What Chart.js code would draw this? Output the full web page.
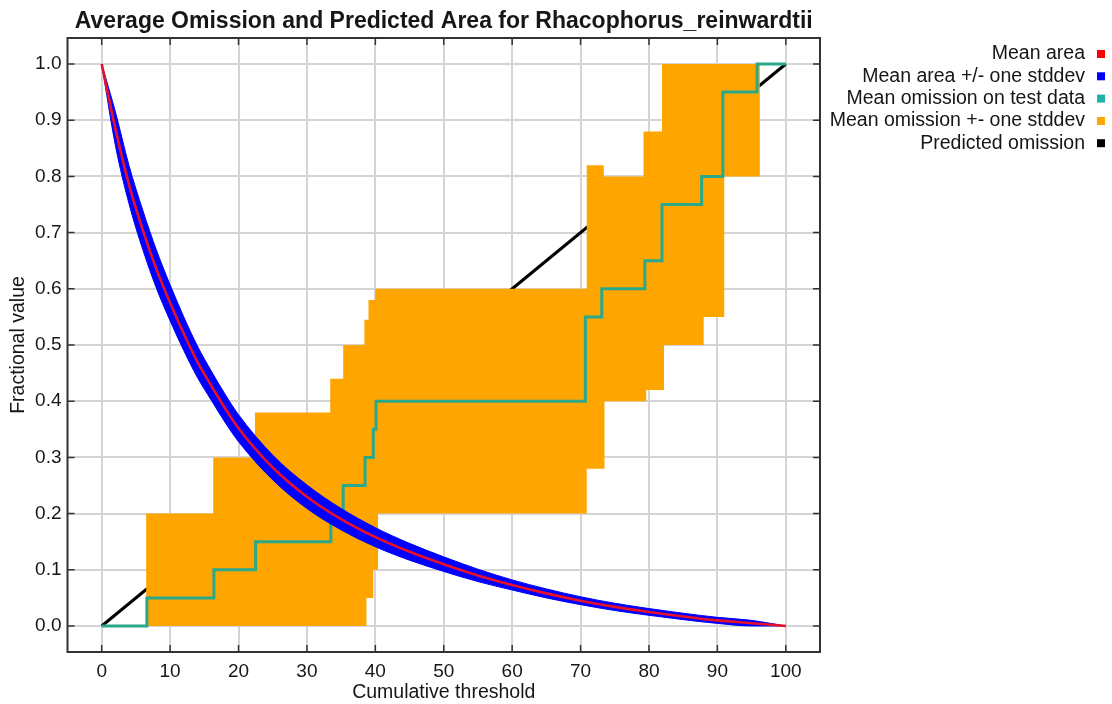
<!DOCTYPE html>
<html>
<head>
<meta charset="utf-8">
<script src="https://cdn.jsdelivr.net/npm/chart.js@4/dist/chart.umd.min.js"></script>
<style>
  html, body { margin: 0; padding: 0; background: #ffffff; }
  #wrap { width: 1112px; height: 704px; }
</style>
</head>
<body>
<div id="wrap"><canvas id="chart" width="1112" height="704"></canvas></div>
<script>
// Cumulative threshold grid for the predicted-area curve
const thresholds = [0, 2, 4, 6, 8, 10, 12, 14, 16, 18, 20, 25, 30, 35, 40, 45, 50, 55, 60, 65, 70, 75, 80, 85, 90, 95, 100];
// Mean fractional predicted area at each threshold
const meanArea = [1.000, 0.885, 0.785, 0.705, 0.635, 0.575, 0.520, 0.470, 0.428, 0.388, 0.352, 0.282, 0.230, 0.190, 0.158, 0.132, 0.110, 0.090, 0.073, 0.058, 0.045, 0.034, 0.025, 0.017, 0.010, 0.005, 0.000];
// One standard deviation of the predicted area
const areaStdDev = [0, 0.030, 0.034, 0.035, 0.034, 0.032, 0.030, 0.028, 0.026, 0.025, 0.024, 0.022, 0.021, 0.019, 0.017, 0.015, 0.013, 0.011, 0.009, 0.008, 0.007, 0.0065, 0.006, 0.0057, 0.0054, 0.005, 0];

// Mean omission on test data: step starts and their values
const omissionSteps = [0, 6.6, 16.4, 22.5, 33.5, 35.3, 38.5, 39.7, 40.1, 70.7, 73.1, 79.4, 81.9, 87.7, 90.8, 95.8, 100];
const meanOmission = [0, 0.05, 0.10, 0.15, 0.20, 0.25, 0.30, 0.35, 0.40, 0.55, 0.60, 0.65, 0.75, 0.80, 0.95, 1.00, 1.00];

// Omission +/- one standard deviation (upper and lower step bounds)
const omissionUpperSteps = [0, 6.5, 16.3, 22.4, 33.4, 35.3, 38.4, 39.0, 40.0, 70.9, 73.4, 79.2, 81.9, 96.2, 100];
const omissionUpper = [0, 0.20, 0.30, 0.38, 0.44, 0.50, 0.545, 0.58, 0.60, 0.82, 0.80, 0.88, 1.00, 1.00, 1.00];
const omissionLowerSteps = [0, 38.7, 39.7, 40.4, 70.9, 73.5, 79.6, 82.2, 88.0, 91.0, 96.2, 100];
const omissionLower = [0, 0.05, 0.10, 0.20, 0.28, 0.40, 0.42, 0.50, 0.55, 0.80, 1.00, 1.00];

// Predicted omission (diagonal)
const predictedThresholds = [0, 100];
const predictedOmission = [0, 1];

// Axis tick values
const xTickValues = [0, 10, 20, 30, 40, 50, 60, 70, 80, 90, 100];
const yTickValues = [0, 0.1, 0.2, 0.3, 0.4, 0.5, 0.6, 0.7, 0.8, 0.9, 1.0];

const legendItems = [
  { text: 'Mean area', color: '#ff0000' },
  { text: 'Mean area +/- one stddev', color: '#0000ff' },
  { text: 'Mean omission on test data', color: '#20b2aa' },
  { text: 'Mean omission +- one stddev', color: '#ffa500' },
  { text: 'Predicted omission', color: '#000000' }
];

const FONT = '"Liberation Sans", Arial, Helvetica, sans-serif';
const TEXT = '#161616';

// Turn step starts/values into explicit corner points
function stepPoints(ts, vs) {
  const pts = [];
  for (let i = 0; i < ts.length; i++) {
    if (i > 0 && vs[i] !== vs[i - 1]) pts.push({ x: ts[i], y: vs[i - 1] });
    pts.push({ x: ts[i], y: vs[i] });
  }
  return pts;
}

const meanAreaPts = thresholds.map((t, i) => ({ x: t, y: meanArea[i] }));
const areaHighPts = thresholds.map((t, i) => ({ x: t, y: meanArea[i] + areaStdDev[i] }));
const areaLowPts = thresholds.map((t, i) => ({ x: t, y: meanArea[i] - areaStdDev[i] }));
const predictedPts = predictedThresholds.map((t, i) => ({ x: t, y: predictedOmission[i] }));

// Frame, inward tick marks and the right-hand key
const frameAndKey = {
  id: 'frameAndKey',
  afterDraw(chart) {
    const { ctx, chartArea: a, scales } = chart;
    ctx.save();
    ctx.strokeStyle = '#333333';
    ctx.lineWidth = 1.5;
    const tl = 7;
    xTickValues.forEach(v => {
      const px = scales.x.getPixelForValue(v);
      ctx.beginPath();
      ctx.moveTo(px, a.bottom); ctx.lineTo(px, a.bottom - tl);
      ctx.moveTo(px, a.top); ctx.lineTo(px, a.top + tl);
      ctx.stroke();
    });
    yTickValues.forEach(v => {
      const py = scales.y.getPixelForValue(v);
      ctx.beginPath();
      ctx.moveTo(a.left, py); ctx.lineTo(a.left + tl, py);
      ctx.moveTo(a.right, py); ctx.lineTo(a.right - tl, py);
      ctx.stroke();
    });
    ctx.lineWidth = 2;
    ctx.strokeRect(a.left, a.top, a.right - a.left, a.bottom - a.top);

    ctx.font = '19.5px ' + FONT;
    ctx.textAlign = 'right';
    ctx.textBaseline = 'middle';
    legendItems.forEach((item, i) => {
      const y = 54 + i * 22.3;
      ctx.fillStyle = TEXT;
      ctx.fillText(item.text, 1085, y);
      ctx.fillStyle = item.color;
      ctx.fillRect(1097, y - 4, 8, 8);
    });
    ctx.restore();
  }
};

new Chart(document.getElementById('chart'), {
  type: 'line',
  data: {
    datasets: [
      {
        label: 'Mean area',
        data: meanAreaPts,
        borderColor: 'rgb(232,16,40)',
        borderWidth: 2.6,
        cubicInterpolationMode: 'monotone',
        pointRadius: 0,
        fill: false
      },
      {
        label: 'Mean area +/- one stddev',
        data: areaHighPts,
        borderColor: '#0000ff',
        borderWidth: 1,
        backgroundColor: '#0000ff',
        cubicInterpolationMode: 'monotone',
        pointRadius: 0,
        fill: '+1'
      },
      {
        label: 'Mean area - one stddev',
        data: areaLowPts,
        borderColor: '#0000ff',
        borderWidth: 1,
        cubicInterpolationMode: 'monotone',
        pointRadius: 0,
        fill: false
      },
      {
        label: 'Mean omission on test data',
        data: stepPoints(omissionSteps, meanOmission),
        borderColor: '#2aa88a',
        borderWidth: 3,
        tension: 0,
        pointRadius: 0,
        fill: false
      },
      {
        label: 'Mean omission +- one stddev',
        data: stepPoints(omissionUpperSteps, omissionUpper),
        borderColor: 'rgba(0,0,0,0)',
        borderWidth: 0,
        backgroundColor: '#ffa500',
        tension: 0,
        pointRadius: 0,
        fill: '+1'
      },
      {
        label: 'Mean omission - one stddev',
        data: stepPoints(omissionLowerSteps, omissionLower),
        borderColor: 'rgba(0,0,0,0)',
        borderWidth: 0,
        tension: 0,
        pointRadius: 0,
        fill: false
      },
      {
        label: 'Predicted omission',
        data: predictedPts,
        borderColor: '#000000',
        borderWidth: 3,
        tension: 0,
        pointRadius: 0,
        fill: false
      }
    ]
  },
  options: {
    responsive: false,
    animation: false,
    devicePixelRatio: 1,
    layout: { padding: { left: 0, right: 292, top: 0, bottom: 0 } },
    plugins: {
      legend: { display: false },
      tooltip: { enabled: false },
      title: {
        display: true,
        fullSize: false,
        text: 'Average Omission and Predicted Area for Rhacophorus_reinwardtii',
        color: TEXT,
        font: { family: FONT, size: 23, weight: 'bold', lineHeight: 1.2 },
        padding: { top: 7.7, bottom: 2.7 }
      }
    },
    scales: {
      x: {
        type: 'linear',
        min: -5,
        max: 105,
        afterBuildTicks: s => { s.ticks = xTickValues.map(v => ({ value: v })); },
        afterFit: s => { s.height = 52; },
        ticks: {
          color: TEXT,
          font: { family: FONT, size: 19 },
          padding: 8.3,
          maxRotation: 0,
          callback: v => String(v)
        },
        grid: { color: '#d4d4d4', lineWidth: 2, drawTicks: false },
        border: { display: false },
        title: {
          display: true,
          text: 'Cumulative threshold',
          color: TEXT,
          font: { family: FONT, size: 19.5, lineHeight: 1.2 },
          padding: { top: 0, bottom: 0 }
        }
      },
      y: {
        type: 'linear',
        min: -0.0463,
        max: 1.0463,
        afterBuildTicks: s => { s.ticks = yTickValues.map(v => ({ value: v })); },
        afterFit: s => { s.width = 67.5; },
        ticks: {
          color: TEXT,
          font: { family: FONT, size: 19 },
          padding: 6,
          callback: v => Number(v).toFixed(1)
        },
        grid: { color: '#d4d4d4', lineWidth: 2, drawTicks: false },
        border: { display: false },
        title: {
          display: true,
          text: 'Fractional value',
          color: TEXT,
          font: { family: FONT, size: 19.5, lineHeight: 1.2 },
          padding: { top: 7.4, bottom: 0 }
        }
      }
    }
  },
  plugins: [frameAndKey]
});
</script>
</body>
</html>
